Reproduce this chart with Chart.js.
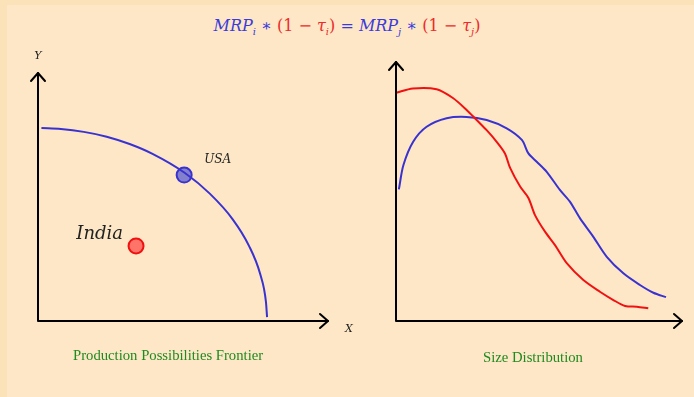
<!DOCTYPE html>
<html lang="en">
<head>
    <meta charset="UTF-8">
    <title>PPF and Size Distribution</title>
    <script src="https://cdn.jsdelivr.net/npm/chart.js"></script>
    <style>
        body {
            margin: 0;
            padding: 0;
            width: 694px;
            height: 397px;
            overflow: hidden;
            background-color: #fce2b8;
        }
        .panel {
            position: absolute;
            left: 7px;
            top: 5px;
            right: 0;
            bottom: 0;
            background-color: #fde7c6;
        }
        .title {
            position: absolute;
            left: 0;
            width: 694px;
            top: 16px;
            text-align: center;
            font-family: "DejaVu Serif", "Liberation Serif", serif;
            font-style: italic;
            font-size: 16px;
            color: #3b3bdc;
        }
        .title .red { color: #ee2a2a; }
        .title .up { font-style: normal; }
        .title sub { font-size: 10px; }
        .caption {
            position: absolute;
            font-family: "Liberation Serif", "Times New Roman", serif;
            font-size: 14.7px;
            color: #1f8a1f;
        }
        canvas { position: absolute; }
    </style>
</head>
<body>
    <div class="panel"></div>
    <div class="title">MRP<sub>i</sub> <span class="up">∗</span> <span class="red"><span class="up">(1 − </span>τ<sub>i</sub><span class="up">)</span></span> <span class="up">=</span> MRP<sub>j</sub> <span class="up">∗</span> <span class="red"><span class="up">(1 − </span>τ<sub>j</sub><span class="up">)</span></span></div>
    <canvas id="ppfChart" width="370" height="320" style="left:0px;top:40px"></canvas>
    <canvas id="sizeChart" width="324" height="320" style="left:370px;top:40px"></canvas>
    <div class="caption" style="left:73px;top:347px">Production Possibilities Frontier</div>
    <div class="caption" style="left:483px;top:349px">Size Distribution</div>
    <script>
        // frontier (x = good X, y = good Y)
        const frontierX = [0.15, 1, 2, 3, 4, 5, 6.4, 7.5, 8.5, 9.2, 9.7, 9.95, 10];
        const frontierY = [10, 9.95, 9.8, 9.55, 9.17, 8.66, 7.68, 6.6, 5.27, 3.92, 2.43, 1.0, 0.2];
        const countryNames = ['USA', 'India'];
        const countryX = [6.38, 4.28];
        const countryY = [7.56, 3.89];

        // firm size distributions
        const redX = [0, 5.9, 14.2, 19.9, 24.7, 28.2, 31.7, 35.2, 38.1, 39.9, 43.4, 46.3, 48.6, 52.1, 55.6, 59.7, 65.5, 71.3, 76.0, 80.1, 84.2, 88.2];
        const redY = [88.1, 89.8, 89.5, 86.1, 81.5, 77.6, 73.7, 69.2, 64.7, 59.1, 51.9, 47.5, 40.9, 34.5, 29.3, 22.3, 15.8, 11.3, 8.1, 5.8, 5.5, 4.9];
        const blueX = [1.0, 2.6, 6.0, 10.7, 17.7, 24.7, 31.7, 38.7, 44.0, 46.3, 49.2, 52.7, 57.3, 60.8, 64.3, 69.0, 73.7, 79.5, 85.3, 90.0, 94.4];
        const blueY = [50.8, 60.2, 69.2, 75.0, 78.3, 78.8, 77.6, 74.4, 69.9, 64.7, 61.5, 57.6, 50.6, 46.1, 39.7, 32.5, 24.8, 18.4, 13.9, 10.9, 9.2];

        const zip = (xs, ys) => xs.map((x, i) => ({ x: x, y: ys[i] }));

        // draws the two axes with open arrowheads, plus axis letters
        const arrowAxes = {
            id: 'arrowAxes',
            afterDraw(chart, args, opts) {
                const ctx = chart.ctx;
                const a = chart.chartArea;
                ctx.save();
                ctx.strokeStyle = '#000';
                ctx.lineWidth = 2;
                ctx.lineCap = 'round';
                ctx.lineJoin = 'round';
                ctx.beginPath();
                ctx.moveTo(a.left, a.top);
                ctx.lineTo(a.left, a.bottom);
                ctx.lineTo(a.right, a.bottom);
                ctx.stroke();
                ctx.beginPath();
                ctx.moveTo(a.left - 7, a.top + 8);
                ctx.lineTo(a.left, a.top);
                ctx.lineTo(a.left + 7, a.top + 8);
                ctx.moveTo(a.right - 8, a.bottom - 7);
                ctx.lineTo(a.right, a.bottom);
                ctx.lineTo(a.right - 8, a.bottom + 7);
                ctx.stroke();
                if (opts.letters) {
                    ctx.fillStyle = '#222';
                    ctx.font = 'italic 11px "DejaVu Serif", serif';
                    ctx.textAlign = 'center';
                    ctx.textBaseline = 'middle';
                    ctx.fillText('Y', a.left, a.top - 17);
                    ctx.fillText('X', a.right + 21, a.bottom + 8);
                }
                ctx.restore();
            }
        };

        // country names next to their points
        const countryLabels = {
            id: 'countryLabels',
            afterDatasetsDraw(chart) {
                const ctx = chart.ctx;
                const xs = chart.scales.x;
                const ys = chart.scales.y;
                ctx.save();
                ctx.fillStyle = '#222';
                ctx.textBaseline = 'middle';
                ctx.font = 'italic 12px "DejaVu Serif", serif';
                ctx.fillText(countryNames[0], xs.getPixelForValue(countryX[0]) + 20, ys.getPixelForValue(countryY[0]) - 15);
                ctx.font = 'italic 18px "DejaVu Serif", serif';
                ctx.textAlign = 'right';
                ctx.fillText(countryNames[1], xs.getPixelForValue(countryX[1]) - 13, ys.getPixelForValue(countryY[1]) - 12);
                ctx.restore();
            }
        };

        const hiddenScales = (xMax, yMax) => ({
            x: { type: 'linear', min: 0, max: xMax, display: false },
            y: { type: 'linear', min: 0, max: yMax, display: false }
        });

        new Chart(document.getElementById('ppfChart'), {
            type: 'scatter',
            data: {
                datasets: [
                    {
                        data: zip(frontierX, frontierY),
                        showLine: true,
                        cubicInterpolationMode: 'monotone',
                        borderColor: '#3a32d0',
                        borderWidth: 2,
                        pointRadius: 0,
                        clip: false
                    },
                    {
                        data: [{ x: countryX[0], y: countryY[0] }],
                        pointRadius: 7.5,
                        backgroundColor: 'rgba(110, 110, 205, 0.85)',
                        borderColor: '#3a32d0',
                        borderWidth: 2,
                        clip: false
                    },
                    {
                        data: [{ x: countryX[1], y: countryY[1] }],
                        pointRadius: 7.5,
                        backgroundColor: 'rgba(255, 110, 100, 0.95)',
                        borderColor: '#f01010',
                        borderWidth: 2,
                        clip: false
                    }
                ]
            },
            options: {
                responsive: false,
                animation: false,
                layout: { padding: { left: 38, top: 33, right: 42, bottom: 39 } },
                scales: hiddenScales(12.66, 12.85),
                plugins: {
                    legend: { display: false },
                    tooltip: { enabled: false },
                    arrowAxes: { letters: true }
                }
            },
            plugins: [arrowAxes, countryLabels]
        });

        new Chart(document.getElementById('sizeChart'), {
            type: 'scatter',
            data: {
                datasets: [
                    {
                        data: zip(redX, redY),
                        showLine: true,
                        tension: 0.3,
                        borderColor: '#f01212',
                        borderWidth: 2,
                        pointRadius: 0,
                        clip: false
                    },
                    {
                        data: zip(blueX, blueY),
                        showLine: true,
                        tension: 0.3,
                        borderColor: '#3a32d0',
                        borderWidth: 2,
                        pointRadius: 0,
                        clip: false
                    }
                ]
            },
            options: {
                responsive: false,
                animation: false,
                layout: { padding: { left: 26, top: 22, right: 12, bottom: 39 } },
                scales: hiddenScales(100, 100),
                plugins: {
                    legend: { display: false },
                    tooltip: { enabled: false },
                    arrowAxes: { letters: false }
                }
            },
            plugins: [arrowAxes]
        });
    </script>
</body>
</html>
